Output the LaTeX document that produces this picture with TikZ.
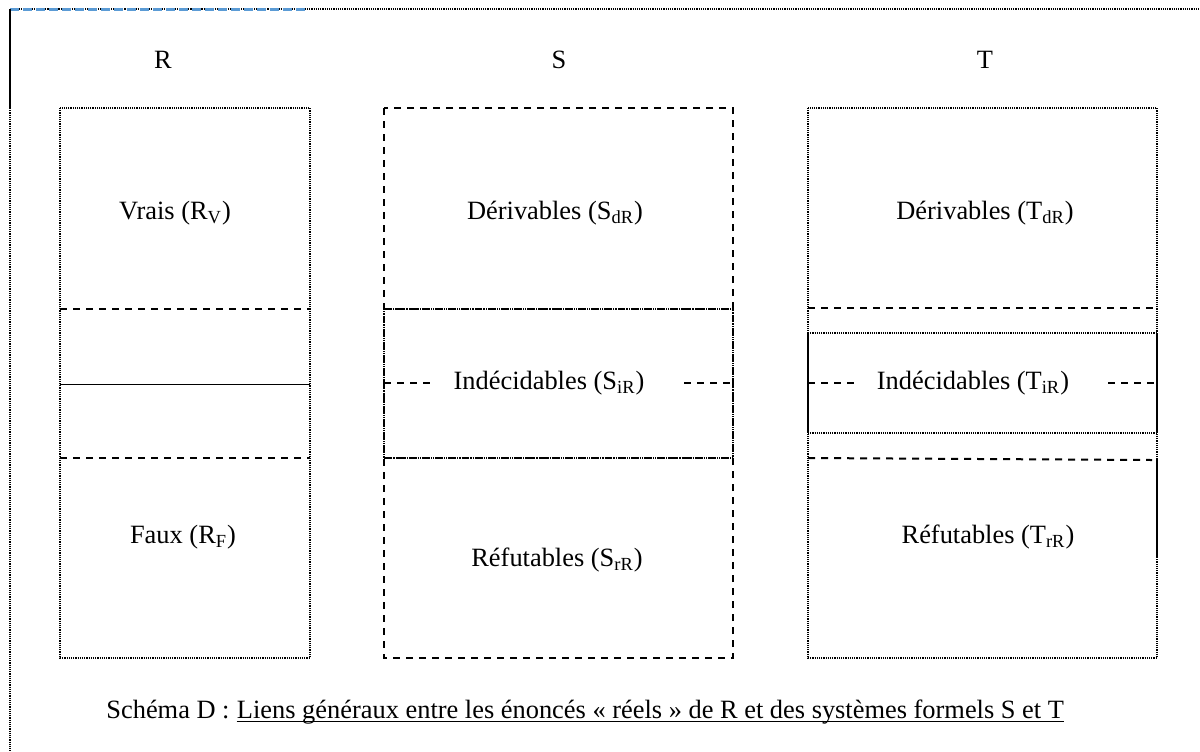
\documentclass[tikz,border=0pt]{standalone}
\usepackage{fontspec}
\setmainfont{Liberation Serif}
\usetikzlibrary{positioning}

\definecolor{wordblue}{RGB}{91,155,213}
\tikzset{
  txt/.style={font=\fontsize{13.2}{15}\selectfont, inner sep=0pt},
  fineline/.style={line width=0.7pt, dash pattern=on 0.6pt off 0.5pt},
  dashline/.style={line width=1pt, dash pattern=on 3.5pt off 3pt},
  plainline/.style={line width=0.5pt},
}

\begin{document}
\begin{tikzpicture}[x=0.5pt, y=-0.5pt]
      \useasboundingbox (0,0) rectangle (1200,751);
      % Frame
      \draw[fineline] (10,9) -- (1200,9);
      \draw[wordblue, line width=1.4pt, dash pattern=on 4.5pt off 2pt] (10,9.5) -- (308,9.5);
      \draw[line width=1pt] (10,9) -- (10,108);
      \draw[fineline] (10,108) -- (10,751);
      % Define nodes
      \node[txt] (r) at (163,60) {R};
      \node[txt] (s) at (559,60) {S};
      \node[txt] (t) at (985,60) {T};
      \node[txt] (rv) at (175,213) {Vrais (R\textsubscript{V})};
      \node[txt] (rf) at (183,537) {Faux (R\textsubscript{F})};
      \node[txt] (sd) at (555,213) {Dérivables (S\textsubscript{dR})};
      \node[txt] (si) at (549,383) {Indécidables (S\textsubscript{iR})};
      \node[txt] (sr) at (557,560) {Réfutables (S\textsubscript{rR})};
      \node[txt] (td) at (985,213) {Dérivables (T\textsubscript{dR})};
      \node[txt] (ti) at (973,383) {Indécidables (T\textsubscript{iR})};
      \node[txt] (tr) at (988,537) {Réfutables (T\textsubscript{rR})};
      \node[txt, anchor=base west] (capa) at (106,718) {Schéma D :};
      \node[txt, right=3.3pt of capa.base east, anchor=base west] (capb)
        {Liens généraux entre les énoncés « réels » de R et des systèmes formels S et T};
      \draw[plainline] ([yshift=-1.5pt]capb.base west) -- ([yshift=-1.5pt]capb.base east);
      % Box R
      \draw[fineline] (60,108) rectangle (310,658);
      \draw[dashline] (60,309) -- (310,309);
      \draw[plainline] (60,384) -- (310,384);
      \draw[dashline] (60,458) -- (310,458);
      % Box S
      \draw[dashline] (384,108) rectangle (733,658);
      \draw[dashline] (384,309) -- (733,309);
      \draw[dashline] (384,458) -- (733,458);
      \draw[fineline] (384,309) rectangle (733,458);
      \draw[dashline] (384,383) -- (432,383);
      \draw[dashline] (684,383) -- (733,383);
      % Box T
      \draw[fineline] (808,108) rectangle (1157,658);
      \draw[dashline] (808,308) -- (1157,308);
      \draw[fineline] (808,333) -- (1157,333);
      \draw[fineline] (808,433) -- (1157,433);
      \draw[line width=0.8pt] (808,333) -- (808,433);
      \draw[line width=0.8pt] (1157,333) -- (1157,433);
      \draw[dashline] (808,458) -- (1152,460);
      \draw[line width=1pt] (1157,458) -- (1157,558);
      \draw[dashline] (808,383) -- (857,383);
      \draw[dashline] (1108,383) -- (1157,383);
    \end{tikzpicture}
\end{document}
